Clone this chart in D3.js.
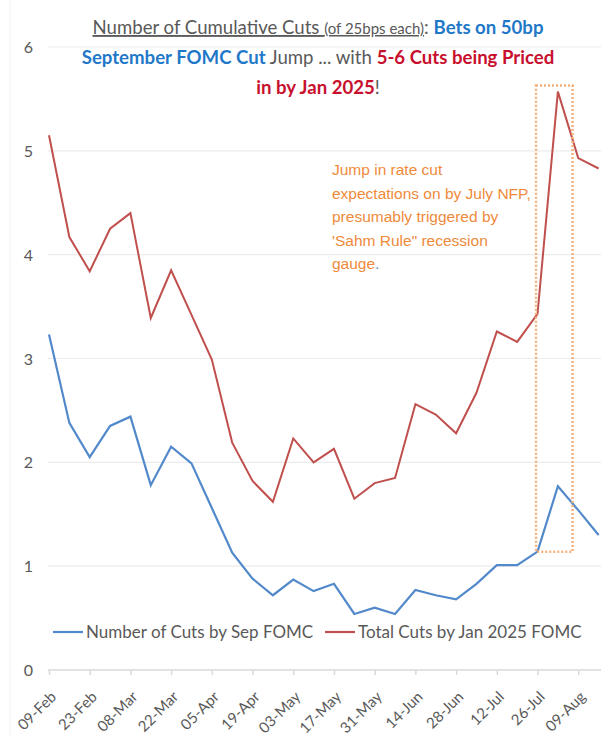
<!DOCTYPE html>
<html>
<head>
<meta charset="utf-8">
<script src="https://cdn.jsdelivr.net/npm/d3@7"></script>
<style>
  body { margin: 0; background: #fff; }
  svg { display: block; font-family: Lato, "Liberation Sans", sans-serif; }
</style>
</head>
<body>
<div id="chart"></div>
<script>
// Chart data (weekly readings)
const dates = ["09-Feb", "16-Feb", "23-Feb", "01-Mar", "08-Mar", "15-Mar", "22-Mar", "29-Mar",
  "05-Apr", "12-Apr", "19-Apr", "26-Apr", "03-May", "10-May", "17-May", "24-May", "31-May",
  "07-Jun", "14-Jun", "21-Jun", "28-Jun", "05-Jul", "12-Jul", "19-Jul", "26-Jul", "02-Aug",
  "09-Aug", "16-Aug"];
const tickLabels = ["09-Feb", "23-Feb", "08-Mar", "22-Mar", "05-Apr", "19-Apr", "03-May",
  "17-May", "31-May", "14-Jun", "28-Jun", "12-Jul", "26-Jul", "09-Aug"];
const sepCuts = [3.23, 2.38, 2.05, 2.35, 2.44, 1.78, 2.15, 1.99, 1.56, 1.13, 0.88, 0.72, 0.87, 0.76,
  0.83, 0.54, 0.60, 0.54, 0.77, 0.72, 0.68, 0.83, 1.01, 1.01, 1.14, 1.77, 1.54, 1.30];
const janCuts = [5.15, 4.17, 3.84, 4.25, 4.40, 3.39, 3.85, 3.42, 2.99, 2.19, 1.82, 1.62, 2.23, 2.00,
  2.13, 1.65, 1.80, 1.85, 2.56, 2.46, 2.28, 2.67, 3.26, 3.16, 3.43, 5.57, 4.93, 4.83];
const yTicks = [0, 1, 2, 3, 4, 5, 6];
const seriesNames = ["Number of Cuts by Sep FOMC", "Total Cuts by Jan 2025 FOMC"];
const noteLines = ["Jump in rate cut", "expectations on by July NFP,", "presumably triggered by",
  "'Sahm Rule\" recession", "gauge"];

const width = 609;
const height = 736;
const blue = "#5289cb";
const red = "#c0504d";
const grey = "#595959";
const orange = "#ef8a3a";

const svg = d3.select("#chart").append("svg")
    .attr("width", width)
    .attr("height", height);

// scales
const x = d3.scalePoint().domain(dates).range([49, 598.6]);
const y = d3.scaleLinear().domain([0, 6]).range([670, 47]);

// faint chart border on the left
svg.append("line")
    .attr("x1", 10).attr("x2", 10)
    .attr("y1", 0).attr("y2", height)
    .attr("stroke", "#f2f2f2");

// gridlines
svg.append("g")
    .selectAll("line")
    .data(yTicks.filter(d => d > 0))
    .join("line")
    .attr("x1", 48).attr("x2", 601)
    .attr("y1", d => y(d)).attr("y2", d => y(d))
    .attr("stroke", "#ececec")
    .attr("stroke-width", 1.2);

// y axis labels
svg.append("g")
    .selectAll("text")
    .data(yTicks)
    .join("text")
    .attr("x", 33)
    .attr("y", d => y(d) + 6)
    .attr("text-anchor", "end")
    .attr("font-size", 16)
    .attr("fill", grey)
    .text(d => d);

// x axis
const xAxis = d3.axisBottom(x)
    .tickValues(tickLabels)
    .tickSize(5)
    .tickSizeOuter(0)
    .tickFormat(d => d);

const gx = svg.append("g")
    .attr("transform", `translate(0, ${y(0)})`)
    .call(xAxis);
gx.select(".domain").attr("stroke", "#d9d9d9").attr("stroke-width", 1.5)
    .attr("d", `M48,0H601`);
gx.selectAll(".tick line").attr("stroke", "#d9d9d9").attr("stroke-width", 1.5);
gx.selectAll(".tick text")
    .attr("font-size", 15)
    .attr("font-family", "Lato, sans-serif")
    .attr("fill", grey)
    .attr("text-anchor", "end")
    .attr("transform", "translate(4, 24) rotate(-45)")
    .attr("dy", "0.35em")
    .attr("x", 0)
    .attr("y", 0);

// lines
const line = d3.line()
    .x((d, i) => x(dates[i]))
    .y(d => y(d));

svg.append("path")
    .datum(janCuts)
    .attr("fill", "none")
    .attr("stroke", red)
    .attr("stroke-width", 2)
    .attr("d", line);

svg.append("path")
    .datum(sepCuts)
    .attr("fill", "none")
    .attr("stroke", blue)
    .attr("stroke-width", 2.2)
    .attr("d", line);

// dotted highlight box around the NFP jump
const boxLeft = x("26-Jul") - 1.5;
const boxRight = x("02-Aug") + (x("09-Aug") - x("02-Aug")) * 0.72;
svg.append("rect")
    .attr("x", boxLeft)
    .attr("y", y(5.63))
    .attr("width", boxRight - boxLeft)
    .attr("height", y(1.14) - y(5.63))
    .attr("fill", "none")
    .attr("stroke", "#f6b07a")
    .attr("stroke-width", 2.5)
    .attr("stroke-dasharray", "2,2");

// annotation text
const note = svg.append("text")
    .attr("font-family", "'Liberation Sans', Arial, sans-serif")
    .attr("font-size", 15.5)
    .attr("fill", orange);
noteLines.forEach((t, i) => {
  note.append("tspan")
      .attr("x", 332)
      .attr("y", 175 + i * 23.5)
      .text(t);
});
note.append("tspan").attr("fill", blue).text(".");

// title
const title = svg.append("g").attr("font-size", 18.6);
const t1 = title.append("text").attr("x", 318).attr("y", 34).attr("text-anchor", "middle");
t1.append("tspan").attr("fill", grey).attr("text-decoration", "underline").text("Number of Cumulative Cuts ");
t1.append("tspan").attr("fill", grey).attr("font-size", 15).attr("text-decoration", "underline").text("(of 25bps each)");
t1.append("tspan").attr("fill", grey).text(": ");
t1.append("tspan").attr("fill", "#1f78c8").attr("font-weight", "bold").text("Bets on 50bp");

const t2 = title.append("text").attr("x", 318).attr("y", 64).attr("text-anchor", "middle");
t2.append("tspan").attr("fill", "#1f78c8").attr("font-weight", "bold").text("September FOMC Cut");
t2.append("tspan").attr("fill", grey).text(" Jump ... with ");
t2.append("tspan").attr("fill", "#c8102e").attr("font-weight", "bold").text("5-6 Cuts being Priced");

const t3 = title.append("text").attr("x", 318).attr("y", 94).attr("text-anchor", "middle");
t3.append("tspan").attr("fill", "#c8102e").attr("font-weight", "bold").text("in by Jan 2025");
t3.append("tspan").attr("fill", grey).text("!");

// legend
const legend = svg.append("g").attr("font-size", 17).attr("fill", grey);
const legendItems = [
  { name: seriesNames[0], color: blue, x0: 53 },
  { name: seriesNames[1], color: red, x0: 325 }
];
legendItems.forEach(d => {
  legend.append("line")
      .attr("x1", d.x0).attr("x2", d.x0 + 30)
      .attr("y1", 632).attr("y2", 632)
      .attr("stroke", d.color)
      .attr("stroke-width", 2.2);
  legend.append("text")
      .attr("x", d.x0 + 33)
      .attr("y", 638)
      .text(d.name);
});
</script>
</body>
</html>
